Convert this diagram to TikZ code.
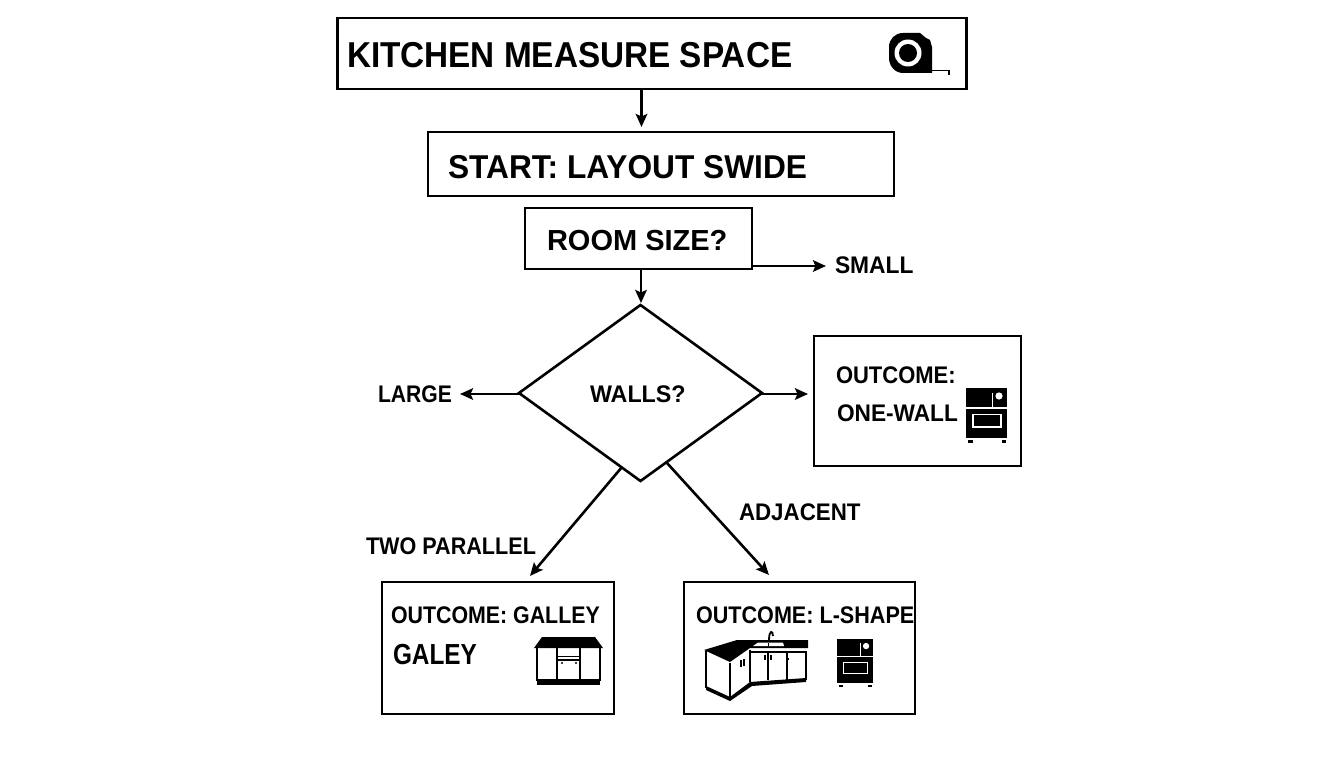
\documentclass[tikz,border=0pt]{standalone}
\usepackage{fontspec}
\setmainfont{Liberation Sans}[BoldFont=* Bold]
\usetikzlibrary{arrows.meta,shapes.geometric}
\tikzset{
  boxnode/.style={draw=black,line width=2.6pt,fill=white,rectangle,inner sep=0pt,outer sep=0pt},
  txt/.style={anchor=base west,inner sep=0pt,outer sep=0pt,text=black},
  conn/.style={draw=black,line width=2.6pt,-{Stealth[length=13pt,width=11.5pt,inset=2.5pt]}},
}
\newcommand{\fs}[2]{\fontsize{#1}{#1}\bfseries\addfontfeature{FakeStretch=#2}\selectfont}
\newcommand{\ovenicon}[3]{%
  \begin{scope}[shift={(#1,#2)},scale=#3]
    \fill (0,0) rectangle (41,19);
    \fill (0,21) rectangle (41,50);
    \fill[white] (26,5) rectangle (27,19);
    \fill[white] (33,8) circle (3.6);
    \draw[white,line width=1.3pt] (7,26.5) rectangle (35,39);
    \fill (2,52) rectangle (6.5,54.5);
    \fill (35.5,52) rectangle (40,54.5);
  \end{scope}}
\begin{document}
\begin{tikzpicture}[x=1pt,y=-1pt]
\useasboundingbox[fill=white] (0,0) rectangle (1344,768);
% boxes
\node[boxnode,minimum width=629pt,minimum height=71pt] (title) at (652,53.5) {};
\node[boxnode,minimum width=466pt,minimum height=64pt] (start) at (661,164) {};
\node[boxnode,minimum width=227pt,minimum height=61pt] (room) at (638.5,238.5) {};
\node[boxnode,diamond,minimum width=243pt,minimum height=176pt] (walls) at (640.5,393) {};
\node[boxnode,minimum width=207pt,minimum height=130pt] (one) at (917.5,401) {};
\node[boxnode,minimum width=232pt,minimum height=132pt] (galley) at (498,648) {};
\node[boxnode,minimum width=231pt,minimum height=132pt] (lshape) at (799.5,648) {};
% texts
\node[txt,font=\fs{36}{0.925}] (ttitle) at (347,68) {KITCHEN MEASURE SPACE};
\node[txt,font=\fs{33}{0.96}] (tstart) at (448,178) {START: LAYOUT SWIDE};
\node[txt,font=\fs{29}{1.0}] (troom) at (547,250) {ROOM SIZE?};
\node[txt,font=\fs{24}{0.95}] (small) at (835,273) {SMALL};
\node[txt,font=\fs{24}{0.88}] (large) at (378,402) {LARGE};
\node[txt,font=\fs{24}{0.97}] (twalls) at (590,402) {WALLS?};
\node[txt,font=\fs{24}{0.916}] at (836,383) {OUTCOME:};
\node[txt,font=\fs{24}{0.945}] at (837,421) {ONE-WALL};
\node[txt,font=\fs{24}{0.9}] (par) at (366,554.5) {TWO PARALLEL};
\node[txt,font=\fs{24}{0.93}] (adj) at (739,520.5) {ADJACENT};
\node[txt,font=\fs{24}{0.89}] at (391,623.5) {OUTCOME: GALLEY};
\node[txt,font=\fs{29}{0.84}] at (393,664) {GALEY};
\node[txt,font=\fs{24}{0.9}] at (696,623.5) {OUTCOME: L-SHAPE};
% connectors
\coordinate (titleout) at (641.5,89);
\coordinate (startin) at (641.5,127);
\coordinate (roomout) at (641,269);
\coordinate (wallsin) at (641,303);
\coordinate (roomside) at (752,266);
\coordinate (smallin) at (826,266);
\coordinate (wallsl) at (622,467);
\coordinate (gallin) at (530,576);
\coordinate (wallsr) at (667,463);
\coordinate (lin) at (769,575);
\coordinate (wallswest) at (519,394);
\coordinate (wallseast) at (762,394);
\coordinate (largein) at (460,394);
\coordinate (onein) at (808,394);
\draw[conn] (titleout) -- (startin);
\draw[conn] (roomout) -- (wallsin);
\draw[conn] (roomside) -- (smallin);
\draw[conn] (wallswest) -- (largein);
\draw[conn] (wallseast) -- (onein);
\draw[conn] (wallsl) -- (gallin);
\draw[conn] (wallsr) -- (lin);
% tape measure
\fill (903,33) -- (920,33) -- (926,38) -- (930,40) -- (932,47) -- (932,73) -- (903,73)
  .. controls (895,73) and (889,66) .. (889,58) -- (889,47) .. controls (889,39) and (895,33) .. (903,33) -- cycle;
\fill[white] (908,53) circle (13.5);
\fill (908,53) circle (9);
\draw[line width=1.8pt] (930,70.5) -- (949,70.5) -- (949,75.5);
% oven one-wall
\ovenicon{966}{388}{1}
% galley cabinet
\fill (534,648) -- (542,637) -- (595,637) -- (603,648) -- cycle;
\draw[line width=1.7pt] (537,648) -- (537,681) (600,648) -- (600,681) (557,648) -- (557,681) (580,648) -- (580,681);
\draw[line width=1.7pt] (557,656.5) -- (580,656.5) (557,660) -- (580,660);
\fill (537,679) rectangle (600,685);
\fill (562,663) circle (1.2) (576,663) circle (1.2);
% L-shape cabinet
\fill (704,650) -- (737,640) -- (808,640) -- (808,648) -- (750,648) -- (730,662) -- cycle;
\fill[white] (753,646) -- (758,642.5) -- (783,642.5) -- (784,646) -- cycle;
\draw[line width=0.7pt] (768,642.5) -- (768,646);
\draw[line width=1.8pt] (769,640) .. controls (769,630) and (773,630) .. (773,636);
\draw[line width=1.7pt] (706,651) -- (706,688) (730,663) -- (730,698) (750,650) -- (750,682) (751,652) -- (806,652) -- (806,680) (768,652) -- (768,680) (787,652) -- (787,680);
\fill (706,686) -- (730,697) -- (750,682) -- (806,678) -- (806,682) -- (752,686) -- (730,701) -- (706,690) -- cycle;
\draw[line width=1.4pt] (765,655) -- (765,660) (771,655) -- (771,660) (788,658) -- (788,660) (741,660) -- (741,667) (744,659) -- (744,666);
\ovenicon{837}{639}{0.88}
\end{tikzpicture}
\end{document}
